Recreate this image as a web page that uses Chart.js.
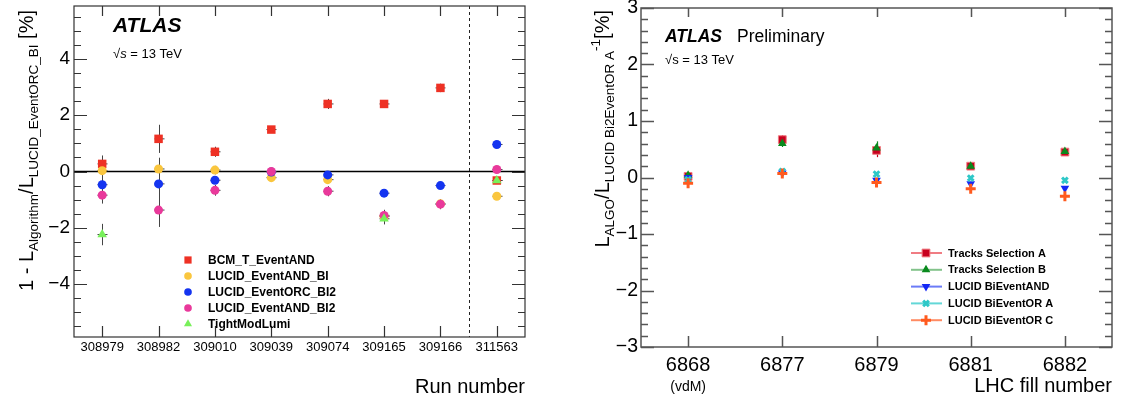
<!DOCTYPE html>
<html lang="en">
<head>
<meta charset="UTF-8">
<title>ATLAS luminosity algorithm comparison</title>
<script src="https://cdn.jsdelivr.net/npm/chart.js"></script>
<style>
  html, body { margin: 0; padding: 0; background: #fff; }
  body { width: 1121px; height: 403px; position: relative; overflow: hidden; }
  canvas { position: absolute; top: 0; }
  #runChart { left: 0; }
  #fillChart { left: 560px; }
</style>
</head>
<body>
<canvas id="runChart" width="560" height="403"></canvas>
<canvas id="fillChart" width="561" height="403"></canvas>
<script>
// ---- left panel: 1 - L_Algorithm / L_LUCID_EventORC_BI [%] per run
const runNumbers = ['308979', '308982', '309010', '309039', '309074', '309165', '309166', '311563'];
const bcmTEventAND      = [0.27, 1.16, 0.70, 1.49, 2.40, 2.40, 2.97, -0.32];
const bcmTEventANDErr   = [0.30, 0.50, 0.18, 0.08, 0.18, 0.10, 0.15, 0.08];
const lucidEventANDBI   = [0.03, 0.09, 0.05, -0.22, -0.29, -1.60, -1.15, -0.88];
const lucidEventANDBIErr = [0.30, 0.40, 0.15, 0.05, 0.15, 0.10, 0.10, 0.05];
const lucidEventORCBI2  = [-0.47, -0.44, -0.31, -0.02, -0.12, -0.77, -0.50, 0.96];
const lucidEventORCBI2Err = [0.30, 0.40, 0.10, 0.05, 0.10, 0.05, 0.05, 0.05];
const lucidEventANDBI2  = [-0.84, -1.37, -0.67, 0.00, -0.70, -1.56, -1.16, 0.07];
const lucidEventANDBI2Err = [0.30, 0.60, 0.19, 0.05, 0.18, 0.20, 0.18, 0.05];
const tightModLumi      = [-2.24, null, null, null, null, -1.68, null, -0.32];
const tightModLumiErr   = [0.38, null, null, null, null, 0.20, null, 0.05];

// ---- right panel: L_ALGO / L_LUCID Bi2EventOR A - 1 [%] per LHC fill
const fillNumbers = ['6868', '6877', '6879', '6881', '6882'];
const tracksSelA       = [0.02, 0.67, 0.48, 0.20, 0.45];
const tracksSelAErr    = [0.03, 0.08, 0.12, 0.04, 0.03];
const tracksSelB       = [0.04, 0.60, 0.52, 0.20, 0.46];
const tracksSelBErr    = [0.03, 0.06, 0.12, 0.04, 0.04];
const lucidBiEventAND  = [0.00, 0.08, -0.05, -0.11, -0.19];
const lucidBiEventORA  = [-0.04, 0.11, 0.06, -0.01, -0.05];
const lucidBiEventORC  = [-0.10, 0.07, -0.09, -0.20, -0.33];
const smallErr         = [0.03, 0.03, 0.03, 0.03, 0.03];

const FONT = '"Liberation Sans", Arial, Helvetica, sans-serif';
Chart.defaults.font.family = FONT;
Chart.defaults.color = '#000';

const minus = v => (v < 0 ? '\u2212' + Math.abs(v) : String(v));

function series(label, data, errors, color, style, radius, extra) {
  return Object.assign({
    label: label,
    data: data,
    errors: errors,
    showLine: false,
    borderColor: color,
    backgroundColor: color,
    pointBackgroundColor: color,
    pointBorderColor: color,
    pointStyle: style,
    pointRadius: radius,
    pointHoverRadius: radius,
    pointBorderWidth: 0
  }, extra || {});
}

// draw a run of text pieces (sub/superscripts via dy) starting at 0,0
function richWidth(ctx, parts) {
  let w = 0;
  parts.forEach(p => { ctx.font = p.font; w += ctx.measureText(p.t).width; });
  return w;
}
function drawRich(ctx, parts) {
  let x = 0;
  parts.forEach(p => {
    ctx.font = p.font;
    ctx.fillText(p.t, x, p.dy || 0);
    x += ctx.measureText(p.t).width;
  });
}

// ROOT style frame with inner ticks on all four sides
const framePlugin = {
  id: 'rootFrame',
  afterDatasetsDraw(chart, args, o) {
    const { ctx, chartArea: a, scales: { x, y } } = chart;
    ctx.save();
    ctx.strokeStyle = o.color;
    ctx.lineWidth = o.lineWidth;
    ctx.beginPath();
    const n0 = Math.ceil(y.min / o.yMinor - 1e-6), n1 = Math.floor(y.max / o.yMinor + 1e-6);
    for (let n = n0; n <= n1; n++) {
      const v = n * o.yMinor;
      const major = Math.abs(v / o.yMajor - Math.round(v / o.yMajor)) < 1e-6;
      const len = major ? o.majLen : o.minLen;
      const py = Math.round(y.getPixelForValue(v)) + 0.5;
      ctx.moveTo(a.left, py); ctx.lineTo(a.left + len, py);
      ctx.moveTo(a.right, py); ctx.lineTo(a.right - len, py);
    }
    chart.data.labels.forEach((l, i) => {
      const px = Math.round(x.getPixelForValue(i)) + 0.5;
      ctx.moveTo(px, a.bottom); ctx.lineTo(px, a.bottom - o.xLenBottom);
      ctx.moveTo(px, a.top); ctx.lineTo(px, a.top + o.xLenTop);
    });
    ctx.stroke();
    ctx.strokeRect(a.left, a.top, a.right - a.left, a.bottom - a.top);
    ctx.restore();
  }
};

// reference lines and error bars, drawn under the markers
const errorBarPlugin = {
  id: 'errorBars',
  beforeDatasetsDraw(chart, args, o) {
    const { ctx, chartArea: a, scales: { x, y } } = chart;
    ctx.save();
    if (o.zeroLine) {
      const py = y.getPixelForValue(0);
      ctx.strokeStyle = '#000';
      ctx.lineWidth = 1.6;
      ctx.beginPath(); ctx.moveTo(a.left, py); ctx.lineTo(a.right, py); ctx.stroke();
    }
    if (o.dashedAfter != null) {
      const px = Math.round((x.getPixelForValue(o.dashedAfter) + x.getPixelForValue(o.dashedAfter + 1)) / 2) + 0.5;
      ctx.strokeStyle = '#222';
      ctx.lineWidth = 1;
      ctx.setLineDash([3, 3]);
      ctx.beginPath(); ctx.moveTo(px, a.top); ctx.lineTo(px, a.bottom); ctx.stroke();
      ctx.setLineDash([]);
    }
    ctx.lineWidth = o.lineWidth;
    chart.data.datasets.forEach((ds, i) => {
      if (!ds.errors) return;
      const meta = chart.getDatasetMeta(i);
      ctx.strokeStyle = o.color || ds.borderColor;
      meta.data.forEach((pt, j) => {
        const v = ds.data[j], e = ds.errors[j];
        if (v == null || e == null) return;
        const px = Math.round(pt.x) + 0.5;
        ctx.beginPath();
        ctx.moveTo(px, y.getPixelForValue(v + e));
        ctx.lineTo(px, y.getPixelForValue(v - e));
        if (o.capWidth) {
          ctx.moveTo(px - o.capWidth, pt.y); ctx.lineTo(px + o.capWidth, pt.y);
        }
        ctx.stroke();
      });
    });
    ctx.restore();
  }
};

// rotated y title with subscripts, ATLAS labels, legend
const annotatePlugin = {
  id: 'annotate',
  afterDraw(chart, args, o) {
    const { ctx } = chart;
    ctx.save();
    ctx.fillStyle = '#000';
    ctx.textBaseline = 'alphabetic';
    ctx.textAlign = 'left';

    const w = richWidth(ctx, o.yTitle.parts);
    ctx.save();
    ctx.translate(o.yTitle.x, o.yTitle.top + w);
    ctx.rotate(-Math.PI / 2);
    drawRich(ctx, o.yTitle.parts);
    ctx.restore();

    o.texts.forEach(t => {
      ctx.save();
      ctx.translate(t.x, t.y);
      drawRich(ctx, t.parts);
      ctx.restore();
    });

    if (o.underTick) {
      const px = chart.scales.x.getPixelForValue(o.underTick.index);
      ctx.font = o.underTick.font;
      ctx.textAlign = 'center';
      ctx.textBaseline = 'middle';
      ctx.fillText(o.underTick.text, px, o.underTick.y);
    }

    const L = o.legend;
    ctx.textAlign = 'left';
    ctx.textBaseline = 'middle';
    chart.data.datasets.forEach((ds, i) => {
      const yy = L.y + i * L.dy;
      if (L.line) {
        ctx.strokeStyle = ds.legendLine;
        ctx.lineWidth = 2;
        ctx.beginPath(); ctx.moveTo(L.line[0], yy); ctx.lineTo(L.line[1], yy); ctx.stroke();
      }
      ctx.fillStyle = ds.pointBackgroundColor;
      ctx.strokeStyle = ds.pointBorderColor;
      ctx.lineWidth = ds.pointBorderWidth;
      Chart.helpers.drawPoint(ctx, {
        pointStyle: ds.pointStyle,
        rotation: ds.pointRotation || 0,
        radius: ds.pointRadius * L.scale,
        borderWidth: ds.pointBorderWidth
      }, L.markerX, yy);
      ctx.fillStyle = '#000';
      ctx.font = L.font;
      ctx.fillText(ds.label, L.textX, yy + 0.5);
    });
    ctx.restore();
  }
};

const plugins = [errorBarPlugin, framePlugin, annotatePlugin];

new Chart(document.getElementById('runChart'), {
  type: 'line',
  data: {
    labels: runNumbers,
    datasets: [
      series('BCM_T_EventAND', bcmTEventAND, bcmTEventANDErr, '#ee3124', 'rect', 6, { order: 4 }),
      series('LUCID_EventAND_BI', lucidEventANDBI, lucidEventANDBIErr, '#fac63e', 'circle', 4.5, { order: 3 }),
      series('LUCID_EventORC_BI2', lucidEventORCBI2, lucidEventORCBI2Err, '#1434f0', 'circle', 4.5, { order: 2 }),
      series('LUCID_EventAND_BI2', lucidEventANDBI2, lucidEventANDBI2Err, '#e9399b', 'circle', 4.5, { order: 1 }),
      series('TightModLumi', tightModLumi, tightModLumiErr, '#78f05a', 'triangle', 5.5, { order: 0 })
    ]
  },
  options: {
    responsive: false,
    animation: false,
    events: [],
    layout: { padding: { top: 5, right: 35, left: 0, bottom: 0 } },
    plugins: {
      legend: { display: false },
      tooltip: { enabled: false },
      rootFrame: { color: '#333', lineWidth: 1.2, yMajor: 2, yMinor: 0.5, majLen: 13, minLen: 7, xLenBottom: 11, xLenTop: 10 },
      errorBars: { color: '#444', lineWidth: 1, capWidth: 5, zeroLine: true, dashedAfter: 6 },
      annotate: {
        yTitle: {
          x: 33, top: 10,
          parts: [
            { t: '1 - L', font: `20px ${FONT}` },
            { t: 'Algorithm', font: `13.5px ${FONT}`, dy: 5 },
            { t: '/L', font: `20px ${FONT}` },
            { t: 'LUCID_EventORC_BI', font: `13.5px ${FONT}`, dy: 5 },
            { t: ' [%]', font: `20px ${FONT}` }
          ]
        },
        texts: [
          { x: 113, y: 32, parts: [{ t: 'ATLAS', font: `italic bold 21px ${FONT}` }] },
          { x: 113, y: 58, parts: [
            { t: '\u221A', font: `13px ${FONT}` },
            { t: 's', font: `italic 13px ${FONT}` },
            { t: ' = 13 TeV', font: `13px ${FONT}` }
          ] }
        ],
        legend: { markerX: 188, textX: 208, y: 260, dy: 16, font: `bold 12px ${FONT}`, line: null, scale: 0.85 }
      }
    },
    scales: {
      x: {
        type: 'category',
        offset: true,
        grid: { display: false, drawTicks: false },
        border: { display: false },
        ticks: { font: { size: 13 }, padding: 3, autoSkip: false, maxRotation: 0, color: '#000' },
        title: { display: true, text: 'Run number', align: 'end', font: { size: 20 }, padding: { top: 0, bottom: 4 }, color: '#000' },
        afterFit: s => { s.height = 66; s.paddingLeft = 0; s.paddingRight = 0; }
      },
      y: {
        min: -5.88,
        max: 5.88,
        grid: { display: false, drawTicks: false },
        border: { display: false },
        ticks: { stepSize: 2, includeBounds: false, font: { size: 19 }, padding: 4, color: '#000', callback: v => minus(v) },
        afterFit: s => { s.width = 74; s.paddingTop = 0; s.paddingBottom = 0; }
      }
    }
  },
  plugins: plugins
});

new Chart(document.getElementById('fillChart'), {
  type: 'line',
  data: {
    labels: fillNumbers,
    datasets: [
      series('Tracks Selection A', tracksSelA, tracksSelAErr, '#c8001e', 'rect', 5.5,
        { order: 4, pointBorderColor: '#f07a80', pointBorderWidth: 1, legendLine: 'rgba(235,80,90,0.75)' }),
      series('Tracks Selection B', tracksSelB, tracksSelBErr, '#0a8a1e', 'triangle', 5,
        { order: 3, legendLine: 'rgba(90,175,100,0.75)' }),
      series('LUCID BiEventAND', lucidBiEventAND, smallErr, '#1428f5', 'triangle', 5,
        { order: 2, pointRotation: 180, legendLine: 'rgba(70,90,245,0.8)' }),
      series('LUCID BiEventOR A', lucidBiEventORA, smallErr, '#2ec8c8', 'crossRot', 4,
        { order: 1, pointBorderWidth: 3, legendLine: 'rgba(60,205,205,0.8)' }),
      series('LUCID BiEventOR C', lucidBiEventORC, smallErr, '#ff5a1e', 'cross', 5,
        { order: 0, pointBorderWidth: 3, legendLine: 'rgba(255,110,60,0.8)' })
    ]
  },
  options: {
    responsive: false,
    animation: false,
    events: [],
    layout: { padding: { top: 7, right: 9, left: 0, bottom: 0 } },
    plugins: {
      legend: { display: false },
      tooltip: { enabled: false },
      rootFrame: { color: '#555', lineWidth: 1.5, yMajor: 1, yMinor: 0.2, majLen: 13, minLen: 7, xLenBottom: 11, xLenTop: 9 },
      errorBars: { lineWidth: 1.2, capWidth: 0 },
      annotate: {
        yTitle: {
          x: 49, top: 10,
          parts: [
            { t: 'L', font: `20px ${FONT}` },
            { t: 'ALGO', font: `13.5px ${FONT}`, dy: 5 },
            { t: '/L', font: `20px ${FONT}` },
            { t: 'LUCID Bi2EventOR A', font: `13.5px ${FONT}`, dy: 5 },
            { t: '-1', font: `13.5px ${FONT}`, dy: -9 },
            { t: '[%]', font: `20px ${FONT}` }
          ]
        },
        texts: [
          { x: 105, y: 42, parts: [{ t: 'ATLAS', font: `italic bold 17.5px ${FONT}` }] },
          { x: 177, y: 42, parts: [{ t: 'Preliminary', font: `17.5px ${FONT}` }] },
          { x: 105, y: 64, parts: [{ t: '\u221As = 13 TeV', font: `13px ${FONT}` }] }
        ],
        underTick: { index: 0, text: '(vdM)', font: `14px ${FONT}`, y: 387 },
        legend: { markerX: 366, textX: 388, y: 253, dy: 16.8, font: `bold 11px ${FONT}`, line: [351, 382], scale: 1 }
      }
    },
    scales: {
      x: {
        type: 'category',
        offset: true,
        grid: { display: false, drawTicks: false },
        border: { display: false },
        ticks: { font: { size: 20 }, padding: 6, autoSkip: false, maxRotation: 0, color: '#000' },
        title: { display: true, text: 'LHC fill number', align: 'end', font: { size: 20 }, padding: { top: 0, bottom: 5 }, color: '#000' },
        afterFit: s => { s.height = 56; s.paddingLeft = 0; s.paddingRight = 0; }
      },
      y: {
        min: -3,
        max: 3,
        grid: { display: false, drawTicks: false },
        border: { display: false },
        ticks: { stepSize: 1, font: { size: 19.5 }, padding: 3, color: '#000', callback: v => minus(v) },
        afterFit: s => { s.width = 81; s.paddingTop = 0; s.paddingBottom = 0; }
      }
    }
  },
  plugins: plugins
});
</script>
</body>
</html>
